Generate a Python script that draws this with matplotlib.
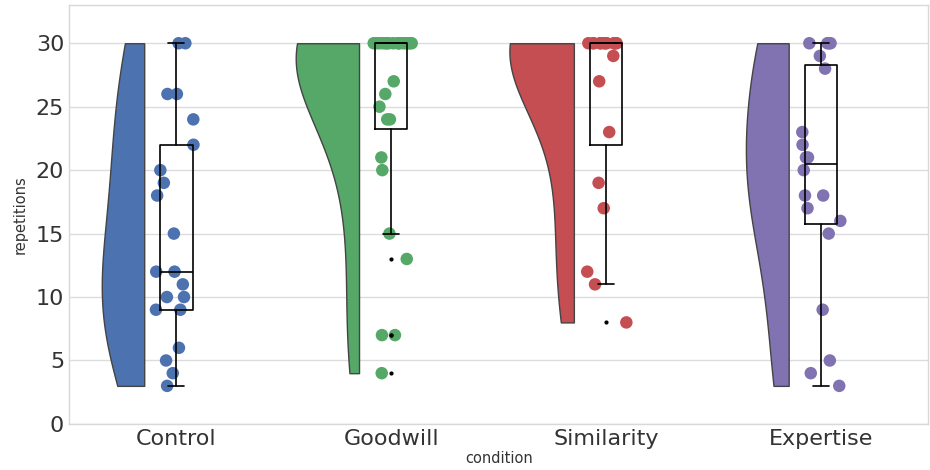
import numpy as np
import pandas as pd
import matplotlib
matplotlib.use("Agg")
import matplotlib.pyplot as plt
import seaborn as sns

# repetitions per participant, one list per condition
conditions = ["Control", "Goodwill", "Similarity", "Expertise"]
control = [30, 30, 26, 26, 24, 22, 20, 19, 18, 15, 12, 12, 11, 10, 10, 9, 9, 6, 5, 4, 3]
goodwill = [30, 30, 30, 30, 30, 30, 30, 30, 30, 30, 30, 30, 30, 30, 30, 30,
            27, 26, 25, 24, 24, 21, 20, 15, 13, 7, 7, 4]
similarity = [30, 30, 30, 30, 30, 30, 30, 30, 30, 30, 30, 30,
              29, 27, 23, 19, 17, 12, 11, 8]
expertise = [30, 30, 30, 30, 29, 28, 23, 22, 21, 21, 20, 18, 18, 17, 16, 15, 9, 5, 4, 3]
yticks = [0, 5, 10, 15, 20, 25, 30]

groups = [control, goodwill, similarity, expertise]
colors = ["#4C72B0", "#55A868", "#C44E52", "#8172B2"]

df = pd.DataFrame({
    "condition": np.repeat(conditions, [len(g) for g in groups]),
    "repetitions": np.concatenate(groups),
})

sns.set_style("whitegrid")
fig = plt.figure(figsize=(9.3, 4.7), dpi=100)
ax = fig.add_axes([0.0742, 0.098, 0.924, 0.891])


def kde(vals, grid, bw_mult=1.25):
    # gaussian kde, scott's rule widened a bit for a smoother cloud
    vals = np.asarray(vals, dtype=float)
    bw = bw_mult * len(vals) ** (-1 / 5) * vals.std(ddof=1)
    z = (grid[:, None] - vals[None, :]) / bw
    return np.exp(-0.5 * z ** 2).sum(axis=1) / (len(vals) * bw * np.sqrt(2 * np.pi))


# half violins ("clouds") on the left of each box, area scaled
grids = [np.linspace(min(g), max(g), 200) for g in groups]
dens = [kde(g, y) for g, y in zip(groups, grids)]
scale = 0.30 / max(d.max() for d in dens)
for i, (y, d) in enumerate(zip(grids, dens)):
    edge = i - 0.15
    ax.fill_betweenx(y, edge - d * scale, edge, facecolor=colors[i],
                     edgecolor="#444444", linewidth=1.0, zorder=1)

# rain
np.random.seed(3)
sns.stripplot(data=df, x="condition", y="repetitions", hue="condition",
              order=conditions, hue_order=conditions, palette=colors,
              jitter=0.1, size=9, linewidth=0, legend=False, ax=ax, zorder=2)

# boxes on top
ax.boxplot(groups, positions=range(4), widths=0.15, manage_ticks=False,
           boxprops=dict(color="black", linewidth=1.2),
           whiskerprops=dict(color="black", linewidth=1.2),
           capprops=dict(color="black", linewidth=1.2),
           medianprops=dict(color="black", linewidth=1.2),
           flierprops=dict(marker="o", markersize=2, markerfacecolor="black",
                           markeredgecolor="black"),
           zorder=10)

ax.set_xlim(-0.5, 3.5)
ax.set_ylim(0, 33)
ax.set_yticks(yticks)
ax.set_xticks(range(4))
ax.set_xticklabels(conditions)
ax.tick_params(axis="both", labelsize=16, colors="#333333", length=0)
ax.tick_params(axis="x", pad=4)
ax.xaxis.grid(False)
ax.yaxis.grid(True, color="#dcdcdc", linewidth=1)
for s in ax.spines.values():
    s.set_color("#d8d8d8")
    s.set_linewidth(1)
ax.set_xlabel("condition", fontsize=10.5, color="#333333", labelpad=1)
ax.set_ylabel("repetitions", fontsize=10.5, color="#333333", labelpad=6)

fig.savefig("out.png", dpi=100)
